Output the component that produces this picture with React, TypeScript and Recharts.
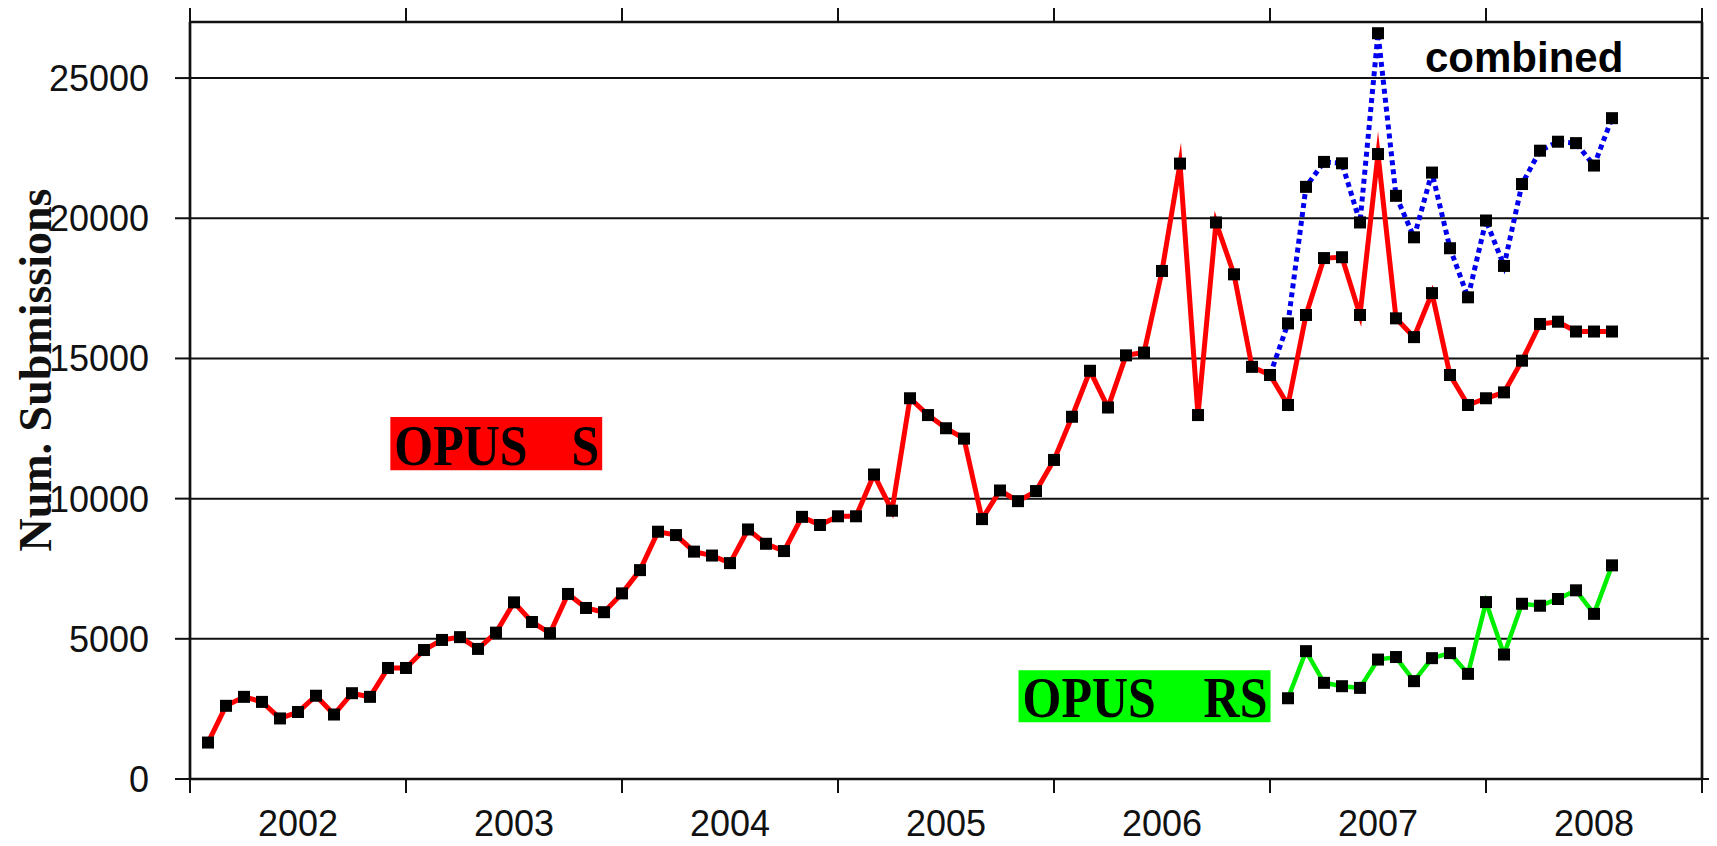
import React from 'react';
import { LineChart, Line, XAxis, YAxis, CartesianGrid, ReferenceArea } from 'recharts';

// Tick labels
const yearLabels = ['2002', '2003', '2004', '2005', '2006', '2007', '2008'];
const yTicks = [0, 5000, 10000, 15000, 20000, 25000];

// OPUS S monthly submissions, month 1 (= Feb 2002) .. month 79
const opusS = [
  1300, 2610, 2930, 2750, 2160, 2390, 2970, 2300, 3060, 2930, 3960, 3960,
  4600, 4960, 5060, 4640, 5220, 6300, 5600, 5200, 6600, 6100, 5950, 6620,
  7450, 8820, 8700, 8110, 7970, 7700, 8900, 8390, 8130, 9350, 9060, 9370,
  9370, 10860, 9570, 13580, 12980, 12510, 12140, 9270, 10290, 9910, 10270,
  11380, 12920, 14560, 13250, 15110, 15210, 18120, 21950, 12980, 19850, 18000,
  14700, 14410, 13340, 16550, 18580, 18610, 16550, 22290, 16430, 15760, 17330,
  14410, 13340, 13580, 13790, 14920, 16230, 16310, 15960, 15960, 15960,
];
// OPUS RS, starting at month 61
const rsStart = 61;
const opusRS = [
  2880, 4560, 3430, 3310, 3250, 4260, 4350, 3490, 4310, 4490, 3750, 6310,
  4440, 6250, 6180, 6420, 6730, 5890, 7620,
];
// combined, starting at month 60
const combStart = 60;
const combined = [
  14410, 16250, 21120, 22010, 21960, 19850, 26600, 20800, 19320, 21630,
  18930, 17180, 19920, 18300, 21220, 22410, 22730, 22680, 21880, 23570,
];

const data = opusS.map((v, i) => {
  const m = i + 1;
  return {
    m,
    s: v,
    rs: m >= rsStart ? opusRS[m - rsStart] : null,
    c: m >= combStart ? combined[m - combStart] : null,
  };
});

const monthsTotal = yearLabels.length * 12;
const xTicks = Array.from({ length: yearLabels.length * 2 + 1 }, (_, i) => i * 6);
const yearBoundaries = Array.from({ length: yearLabels.length + 1 }, (_, i) => i * 12);

const SANS = 'Liberation Sans, Arial, Helvetica, sans-serif';
const SERIF = 'Liberation Serif, Times New Roman, serif';

const BottomTick = (props: any) => {
  const { x, y, payload } = props;
  const v = payload.value;
  if (v % 12 === 0) {
    return <line x1={x} x2={x} y1={y} y2={y + 14} stroke="#111" strokeWidth={2} />;
  }
  const label = yearLabels[(v - 6) / 12];
  return (
    <text x={x} y={y + 57} textAnchor="middle" fontFamily={SANS} fontSize={36} fill="#111">
      {label}
    </text>
  );
};

const TopTick = (props: any) => {
  const { x, y } = props;
  return <line x1={x} x2={x} y1={y} y2={y - 15} stroke="#111" strokeWidth={2} />;
};

const LeftTick = (props: any) => {
  const { x, y, payload } = props;
  return (
    <g>
      <line x1={x - 15} x2={x} y1={y} y2={y} stroke="#111" strokeWidth={2} />
      <text x={x - 41} y={y + 13} textAnchor="end" fontFamily={SANS} fontSize={36} fill="#111">
        {String(payload.value)}
      </text>
    </g>
  );
};

const RightTick = (props: any) => {
  const { x, y } = props;
  return <line x1={x} x2={x + 15} y1={y} y2={y} stroke="#111" strokeWidth={2} />;
};

const SquareDot = (props: any) => {
  const { cx, cy, index } = props;
  if (cx == null || cy == null || isNaN(cy)) return <g key={'d' + index} />;
  return <rect key={'d' + index} x={cx - 6} y={cy - 6} width={12} height={12} fill="#000" />;
};

const BoxLabel = (props: any) => {
  const { viewBox, left, right } = props;
  if (!viewBox) return null;
  const { x, y, width, height } = viewBox;
  const base = y + height - 5;
  return (
    <g>
      <text
        transform={`translate(${x + 4},${base}) scale(1,1.12)`}
        fontFamily={SERIF}
        fontWeight="bold"
        fontSize={50}
        fill="#000"
      >
        {left}
      </text>
      <text
        transform={`translate(${x + width - 3},${base}) scale(1,1.12)`}
        textAnchor="end"
        fontFamily={SERIF}
        fontWeight="bold"
        fontSize={50}
        fill="#000"
      >
        {right}
      </text>
    </g>
  );
};

export default function App() {
  const W = 1709;
  const H = 838;
  return (
    <div style={{ position: 'relative', width: W, height: H }}>
      <LineChart
        width={W}
        height={H}
        data={data}
        margin={{ top: 0, right: 0, bottom: 0, left: 0 }}
      >
        <CartesianGrid horizontal vertical={false} stroke="#111" strokeWidth={2} />
        <XAxis
          dataKey="m"
          type="number"
          domain={[0, monthsTotal]}
          ticks={xTicks}
          interval={0}
          tick={<BottomTick />}
          tickLine={false}
          tickSize={0}
          tickMargin={0}
          axisLine={{ stroke: '#111', strokeWidth: 2.7 }}
          height={67}
          allowDataOverflow
        />
        <XAxis
          xAxisId="top"
          orientation="top"
          dataKey="m"
          type="number"
          domain={[0, monthsTotal]}
          ticks={yearBoundaries}
          interval={0}
          tick={<TopTick />}
          tickLine={false}
          tickSize={0}
          tickMargin={0}
          axisLine={{ stroke: '#111', strokeWidth: 2.7 }}
          height={14}
          allowDataOverflow
        />
        <YAxis
          type="number"
          domain={[0, 27000]}
          ticks={yTicks}
          interval={0}
          tick={<LeftTick />}
          tickLine={false}
          tickSize={0}
          tickMargin={0}
          axisLine={{ stroke: '#111', strokeWidth: 2.7 }}
          width={182}
          allowDataOverflow
        />
        <YAxis
          yAxisId="right"
          orientation="right"
          type="number"
          domain={[0, 27000]}
          ticks={yTicks}
          interval={0}
          tick={<RightTick />}
          tickLine={false}
          tickSize={0}
          tickMargin={0}
          axisLine={{ stroke: '#111', strokeWidth: 2.7 }}
          width={15}
          allowDataOverflow
        />
        <ReferenceArea
          x1={11.13}
          x2={22.9}
          y1={11010}
          y2={12910}
          fill="#ff0000"
          fillOpacity={1}
          stroke="none"
          ifOverflow="visible"
          label={<BoxLabel left="OPUS" right="S" />}
        />
        <ReferenceArea
          x1={46.03}
          x2={60.03}
          y1={2020}
          y2={3880}
          fill="#00ff00"
          fillOpacity={1}
          stroke="none"
          ifOverflow="visible"
          label={<BoxLabel left="OPUS" right="RS" />}
        />
        <Line
          type="linear"
          dataKey="s"
          stroke="#ff0000"
          strokeWidth={5}
          strokeMiterlimit={10}
          dot={SquareDot}
          activeDot={false}
          isAnimationActive={false}
          connectNulls={false}
        />
        <Line
          type="linear"
          dataKey="rs"
          stroke="#00ee00"
          strokeWidth={4.5}
          strokeMiterlimit={10}
          dot={SquareDot}
          activeDot={false}
          isAnimationActive={false}
          connectNulls={false}
        />
        <Line
          type="linear"
          dataKey="c"
          stroke="#0000ee"
          strokeWidth={5}
          strokeDasharray="5 4"
          dot={SquareDot}
          activeDot={false}
          isAnimationActive={false}
          connectNulls={false}
        />
      </LineChart>
      <svg
        width={W}
        height={H}
        style={{ position: 'absolute', left: 0, top: 0, pointerEvents: 'none', overflow: 'visible' }}
      >
        <text
          transform="translate(43,362) rotate(-90)"
          textAnchor="middle"
          fontFamily={SERIF}
          fontWeight="bold"
          fontSize={46}
          fill="#111"
        >
          Num. Submissions
        </text>
        <text x={1417} y={64} fontFamily={SANS} fontWeight="bold" fontSize={42} fill="#000">
          combined
        </text>
      </svg>
    </div>
  );
}
